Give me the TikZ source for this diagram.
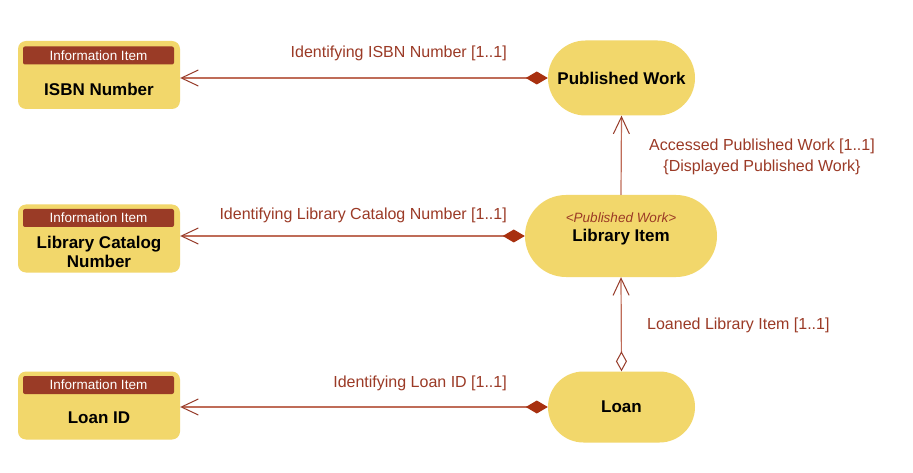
\documentclass[tikz,border=0pt]{standalone}
\usepackage{fontspec}
\setmainfont{Liberation Sans}
\usetikzlibrary{positioning,arrows.meta,calc,shapes.misc}
\definecolor{itemFill}{HTML}{F2D76B}
\definecolor{hdrRed}{HTML}{9A3B26}
\definecolor{wire}{HTML}{BF6C58}
\definecolor{barb}{HTML}{963A28}
\definecolor{tagTxt}{HTML}{9B3A26}
\definecolor{diaFill}{HTML}{A8300F}

\tikzset{
  infobox/.style={fill=itemFill, rounded corners=8pt, minimum width=162pt, minimum height=68pt, inner sep=0pt},
  infohd/.style={fill=hdrRed, rounded corners=2pt, minimum width=151pt, minimum height=18pt, inner sep=0pt,
    text=white, font=\fontsize{13.5}{15}\selectfont},
  infotxt/.style={font=\fontsize{17}{19.5}\selectfont\bfseries, align=center, inner sep=0pt},
  classbox/.style={rounded rectangle, fill=itemFill, minimum height=75pt, minimum width=147pt, inner sep=0pt,
    font=\fontsize{17}{19}\selectfont\bfseries},
  stereo/.style={text=tagTxt, font=\fontsize{13.5}{15}\selectfont\itshape, inner sep=0pt},
  assoc/.style={draw=wire, line width=1.2pt},
  lbl/.style={text=tagTxt, font=\fontsize{16}{21}\selectfont, inner sep=0pt, align=center},
  owns/.tip={Diamond[length=22pt, width=13pt, fill=diaFill, color=diaFill]},
  holds/.tip={Diamond[open, length=20pt, width=11pt, color=barb, line width=1pt]},
  navi/.tip={Straight Barb[length=17pt, width=16pt, color=barb, line width=1pt]}
}

\begin{document}
\begin{tikzpicture}[x=1pt, y=-1pt]
  \useasboundingbox[fill=white] (0,0) rectangle (913,473);

  % information items
  \node[infobox] (isbn) at (99,75) {};
  \node[infohd] (isbnHd) at (98.5,55.5) {Information Item};
  \node[infotxt] (isbnTxt) at (99,89) {ISBN Number};

  \node[infobox] (cat) at (99,238.5) {};
  \node[infohd] (catHd) at (98.5,218) {Information Item};
  \node[infotxt] (catTxt) at (99,252) {Library Catalog\\Number};

  \node[infobox] (lid) at (99,405.5) {};
  \node[infohd] (lidHd) at (98.5,385) {Information Item};
  \node[infotxt] (lidTxt) at (99,418) {Loan ID};

  % classes
  \node[classbox] (pw) at (621.5,78) {Published Work};
  \node[classbox, minimum width=192pt, minimum height=82pt] (li) at (621,236) {};
  \node[infotxt] (liTxt) at (621,237) {Library Item};
  \node[stereo] (liTag) at (621,218) {<Published Work>};
  \node[classbox, minimum height=71pt] (loan) at (621.5,407) {Loan};

  % associations
  \draw[assoc, {owns}-{navi}] (pw.west) -- (pw.west -| isbn.east);
  \draw[assoc, {owns}-{navi}] (li.west) -- (li.west -| cat.east);
  \draw[assoc, {owns}-{navi}] (loan.west) -- (loan.west -| lid.east);
  \draw[assoc, -{navi}] (li.north) -- (pw.south);
  \draw[assoc, {holds}-{navi}] (loan.north) -- (li.south);

  % role labels
  \node[lbl, anchor=east] (isbnLbl) at (507,53.5) {Identifying ISBN Number [1..1]};
  \node[lbl, anchor=east] (catLbl) at (507,215.5) {Identifying Library Catalog Number [1..1]};
  \node[lbl, anchor=east] (lidLbl) at (507,383.5) {Identifying Loan ID [1..1]};
  \node[lbl] (pwLbl) at (762,157) {Accessed Published Work [1..1]\\\{Displayed Published Work\}};
  \node[lbl, anchor=west] (liLbl) at (647,325.5) {Loaned Library Item [1..1]};
\end{tikzpicture}
\end{document}
